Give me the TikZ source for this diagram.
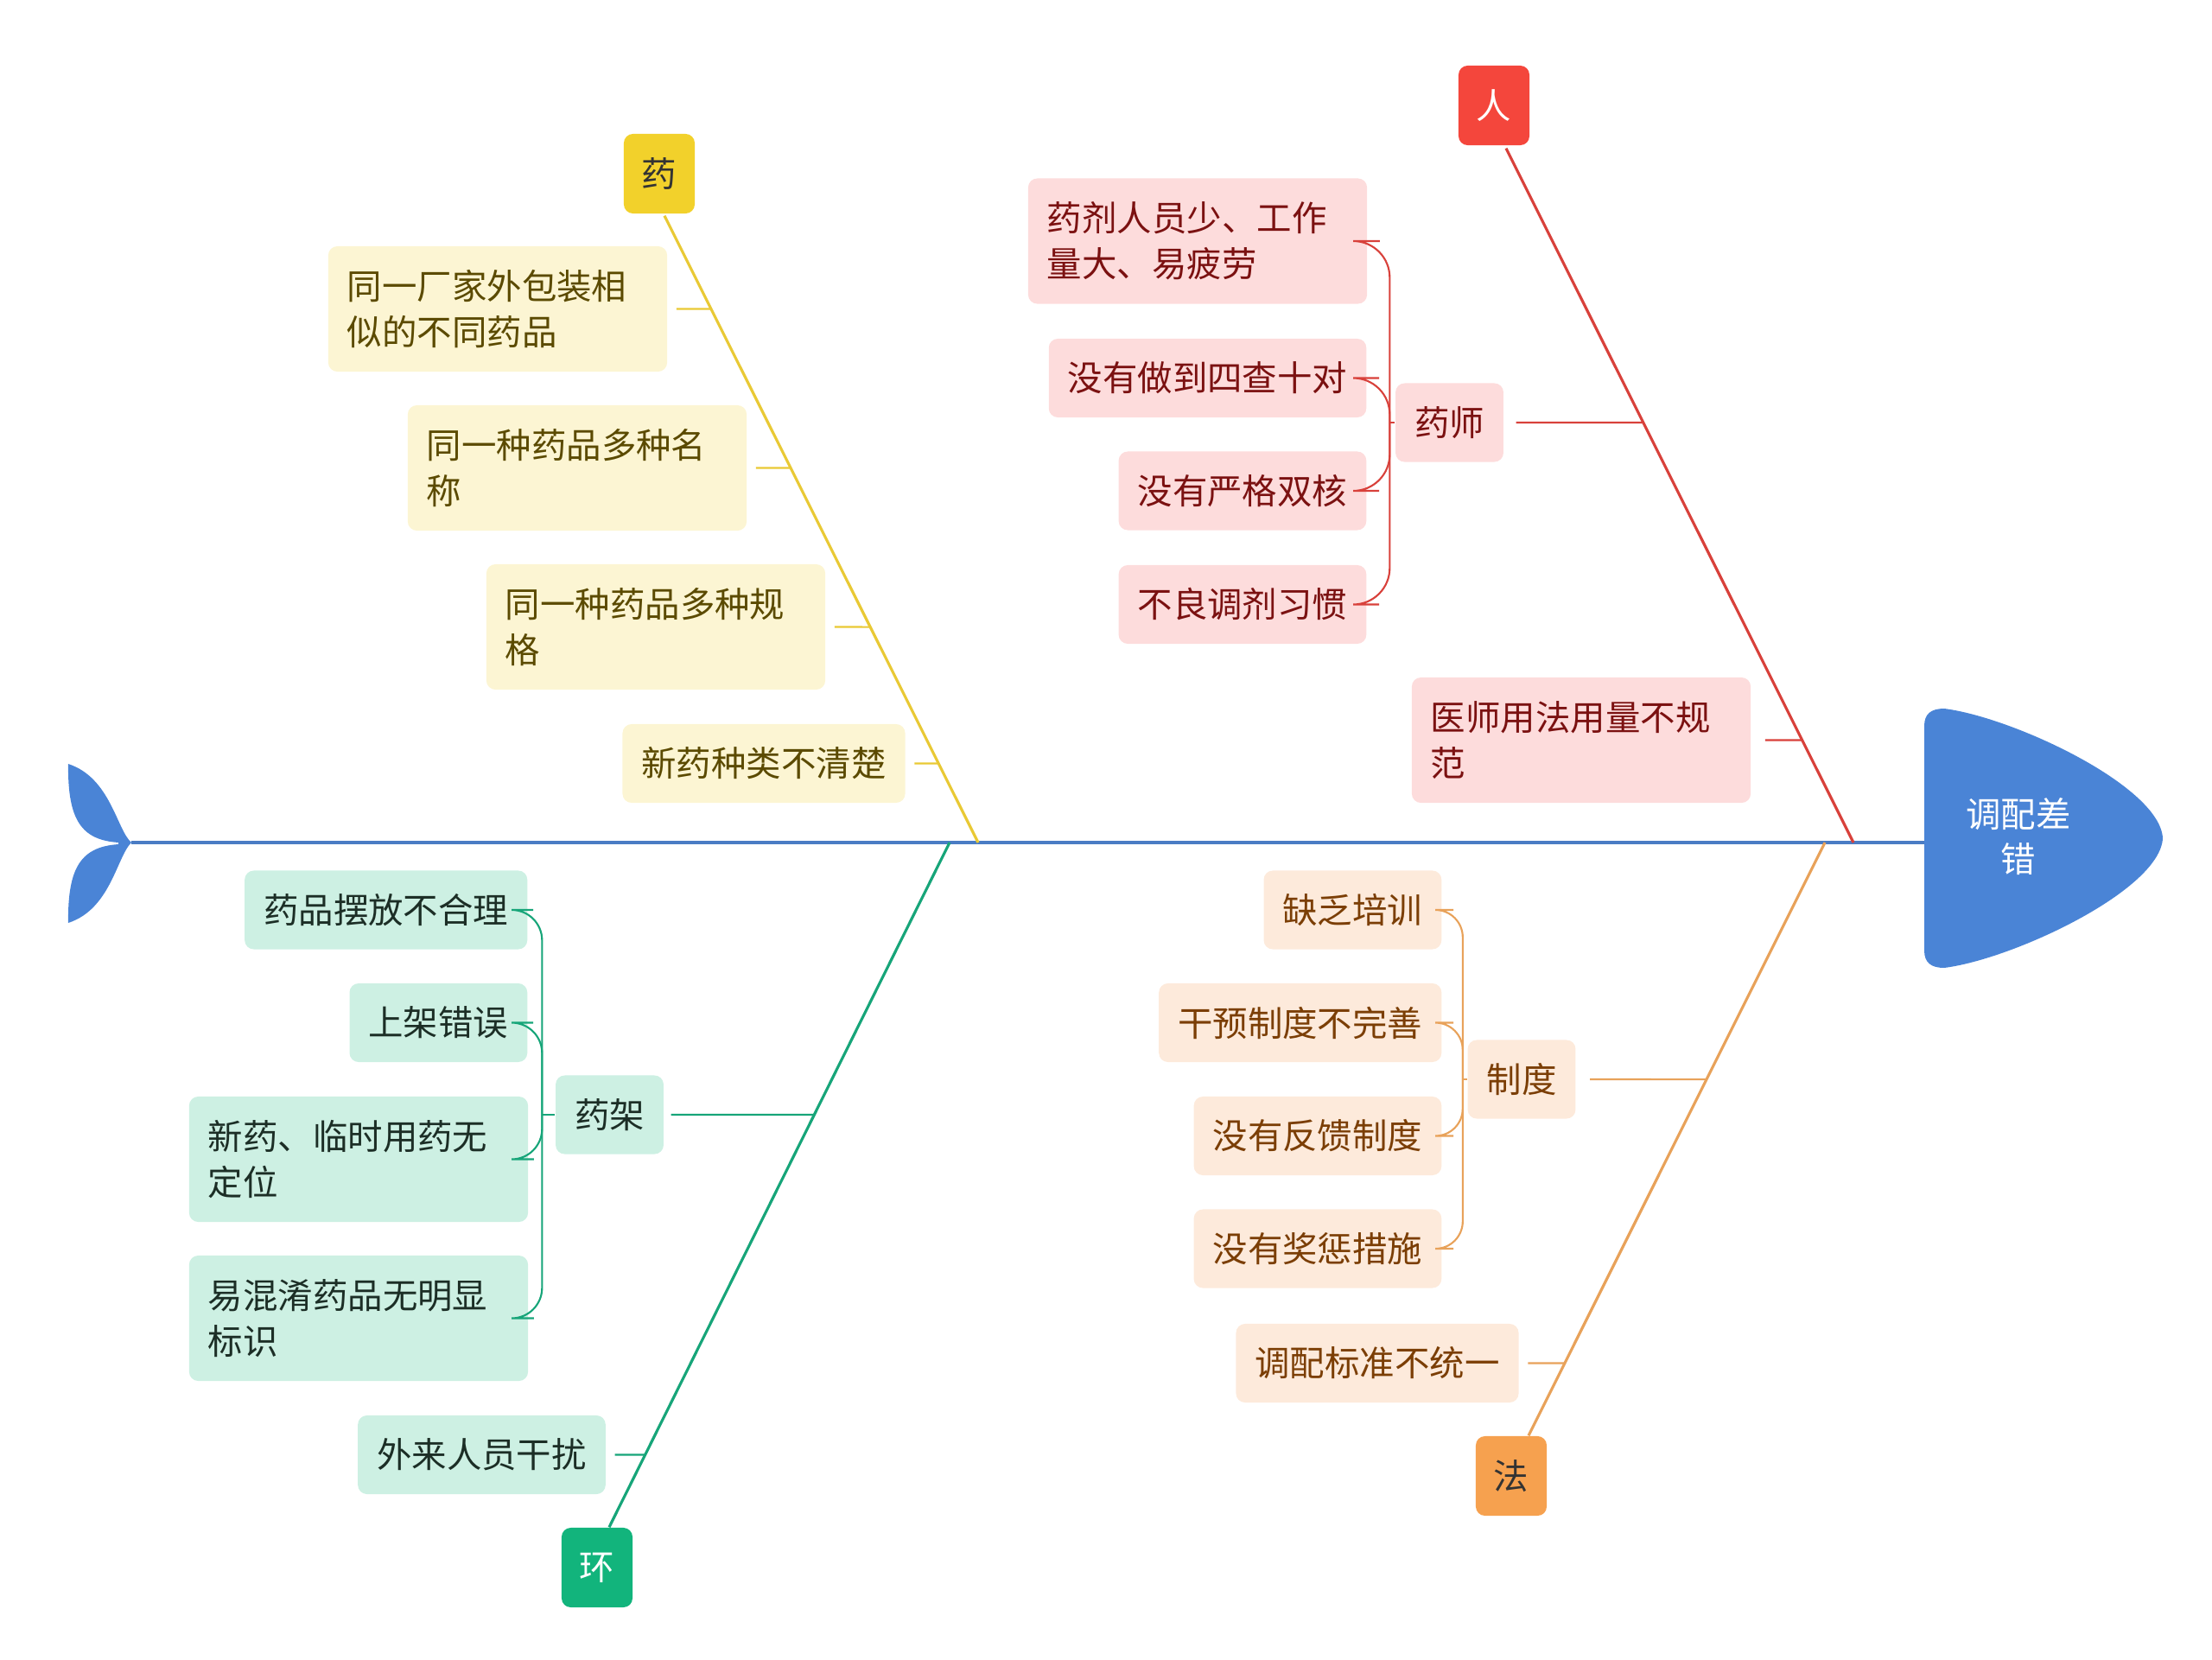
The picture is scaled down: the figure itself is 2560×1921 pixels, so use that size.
\documentclass[tikz,border=0pt]{standalone}
\usepackage{fontspec}
\setmainfont{Noto Sans CJK SC}
\usepackage{xcolor}
\usetikzlibrary{calc}

\definecolor{fishblue}{HTML}{4A84D6}
\definecolor{spineblue}{HTML}{4A7CC4}
\definecolor{catdark}{HTML}{333333}
\definecolor{yaoC}{HTML}{F2D12B}
\definecolor{yaoL}{HTML}{E9C935}
\definecolor{yaoF}{HTML}{FCF5D3}
\definecolor{yaoT}{HTML}{5B4A00}
\definecolor{renC}{HTML}{F4463C}
\definecolor{renL}{HTML}{D8413B}
\definecolor{renF}{HTML}{FDDCDC}
\definecolor{renT}{HTML}{7B1111}
\definecolor{huanC}{HTML}{12B47C}
\definecolor{huanL}{HTML}{17A579}
\definecolor{huanF}{HTML}{CDF0E3}
\definecolor{huanT}{HTML}{1C2E26}
\definecolor{faC}{HTML}{F6A14F}
\definecolor{faL}{HTML}{E8A25A}
\definecolor{faF}{HTML}{FDEADB}
\definecolor{faT}{HTML}{7B3E05}

\begin{document}
\begin{tikzpicture}[x=0.01cm, y=-0.01cm, font=\fontsize{11.5pt}{15pt}\selectfont,
  cat/.style={rounded corners=3pt, minimum width=0.82cm, minimum height=0.92cm, inner sep=0pt},
  leaf/.style={rounded corners=3pt, minimum height=0.91cm, inner xsep=0.22cm, inner ysep=0pt},
  wide/.style={leaf, text width=3.48cm, align=left, minimum height=1.45cm},
  bone/.style={line width=0.9pt},
  twig/.style={line width=0.6pt},
  yaoleaf/.style={fill=yaoF, text=yaoT},
  renleaf/.style={fill=renF, text=renT},
  huanleaf/.style={fill=huanF, text=huanT},
  faleaf/.style={fill=faF, text=faT}
]
\useasboundingbox (0,0) rectangle (2560,1921);

% tail and head of the fish
\fill[fishblue] (152,975) .. controls (135,960) and (128,900) .. (79,884)
  .. controls (78,950) and (95,972) .. (137,975) -- (137,977)
  .. controls (95,980) and (78,1002) .. (79,1068)
  .. controls (128,1052) and (135,992) .. (152,975) -- cycle;
\fill[fishblue] (2227,840) .. controls (2227,826) and (2235,820) .. (2250,820)
  .. controls (2330,830) and (2500,910) .. (2503,970)
  .. controls (2500,1030) and (2330,1110) .. (2250,1120)
  .. controls (2235,1120) and (2227,1114) .. (2227,1100) -- cycle;
\node[text=white, align=center] (effect) at (2336,968) {调配差\\错};

\coordinate (tip) at (152,975);
\coordinate (headW) at (2227,975);
\draw[bone, spineblue] (tip) -- (headW);

% categories
\node[cat, fill=yaoC, text=catdark] (yao) at (763,201) {药};
\node[cat, fill=renC, text=white] (ren) at (1729,122) {人};
\node[cat, fill=huanC, text=white] (huan) at (691,1814) {环};
\node[cat, fill=faC, text=catdark] (fa) at (1749,1708) {法};

\coordinate (yaoS) at ($(yao.south)+(6,2)$);
\coordinate (yaoJ) at (1132,975);
\coordinate (renS) at ($(ren.south)+(14,3)$);
\coordinate (renJ) at (2145,975);
\coordinate (huanS) at ($(huan.north)+(14,0)$);
\coordinate (huanJ) at (1099,975);
\coordinate (faS) at ($(fa.north)+(20,0)$);
\coordinate (faJ) at (2112,975);

\draw[bone, yaoL] (yaoS) -- (yaoJ);
\draw[bone, renL] (renS) -- (renJ);
\draw[bone, huanL] (huanS) -- (huanJ);
\draw[bone, faL] (faS) -- (faJ);

% 药
\node[wide, yaoleaf] (y1) at (576,357.5) {同一厂家外包装相\\似的不同药品};
\node[wide, yaoleaf] (y2) at (668,541.5) {同一种药品多种名\\称};
\node[wide, yaoleaf] (y3) at (759,725.5) {同一种药品多种规\\格};
\node[leaf, yaoleaf] (y4) at (884,883.5) {新药种类不清楚};
\foreach \lf in {y1,y2,y3,y4}
  \draw[twig, yaoL] ($(\lf.east)+(10,0)$) -- (intersection of \lf.west--\lf.east and yaoS--yaoJ);

% 人
\node[wide, renleaf] (r1) at (1386,279) {药剂人员少、工作\\量大、易疲劳};
\node[leaf, renleaf, anchor=east] (r2) at (1582,437.5) {没有做到四查十对};
\node[leaf, renleaf, anchor=east] (r3) at (1582,568) {没有严格双核};
\node[leaf, renleaf, anchor=east] (r4) at (1582,699.5) {不良调剂习惯};
\node[leaf, renleaf] (yaoshi) at (1677.5,489) {药师};
\node[wide, renleaf] (r5) at (1830,856.5) {医师用法用量不规\\范};
\coordinate (ysJ) at ($(yaoshi.west)+(-6,0)$);
\foreach \lf in {r1,r2,r3,r4}
  \draw[twig, renL, rounded corners=12] ($(\lf.east)+(14,0)$) -| (ysJ);
\draw[twig, renL] (ysJ) -- (yaoshi.west);
\draw[twig, renL] ($(yaoshi.east)+(14,0)$) -- (intersection of yaoshi.west--yaoshi.east and renS--renJ);
\draw[twig, renL] ($(r5.east)+(16,0)$) -- (intersection of r5.west--r5.east and renS--renJ);

% 环
\node[leaf, huanleaf, anchor=east] (g1) at (611,1053) {药品摆放不合理};
\node[leaf, huanleaf, anchor=east] (g2) at (611,1183.5) {上架错误};
\node[wide, huanleaf] (g3) at (415,1341.5) {新药、临时用药无\\定位};
\node[wide, huanleaf] (g4) at (415,1525.5) {易混淆药品无明显\\标识};
\node[leaf, huanleaf] (yaojia) at (705.5,1290) {药架};
\node[leaf, huanleaf] (g5) at (557.5,1683.5) {外来人员干扰};
\coordinate (yjJ) at ($(yaojia.west)+(-15,0)$);
\foreach \lf in {g1,g2,g3,g4}
  \draw[twig, huanL, rounded corners=10] ($(\lf.east)+(6,0)$) -| (yjJ);
\draw[twig, huanL] (yjJ) -- (yaojia.west);
\draw[twig, huanL] ($(yaojia.east)+(8,0)$) -- (intersection of yaojia.west--yaojia.east and huanS--huanJ);
\draw[twig, huanL] ($(g5.east)+(10,0)$) -- (intersection of g5.west--g5.east and huanS--huanJ);

% 法
\node[leaf, faleaf, anchor=east] (o1) at (1669,1053) {缺乏培训};
\node[leaf, faleaf, anchor=east] (o2) at (1669,1183.5) {干预制度不完善};
\node[leaf, faleaf, anchor=east] (o3) at (1669,1314.5) {没有反馈制度};
\node[leaf, faleaf, anchor=east] (o4) at (1669,1445) {没有奖惩措施};
\node[leaf, faleaf] (zhidu) at (1761,1249) {制度};
\node[leaf, faleaf] (o5) at (1594,1577.5) {调配标准不统一};
\coordinate (zdJ) at ($(zhidu.west)+(-5,0)$);
\foreach \lf in {o1,o2,o3,o4}
  \draw[twig, faL, rounded corners=9] ($(\lf.east)+(13,0)$) -| (zdJ);
\draw[twig, faL] (zdJ) -- (zhidu.west);
\draw[twig, faL] ($(zhidu.east)+(16,0)$) -- (intersection of zhidu.west--zhidu.east and faS--faJ);
\draw[twig, faL] ($(o5.east)+(10,0)$) -- (intersection of o5.west--o5.east and faS--faJ);
\end{tikzpicture}
\end{document}
